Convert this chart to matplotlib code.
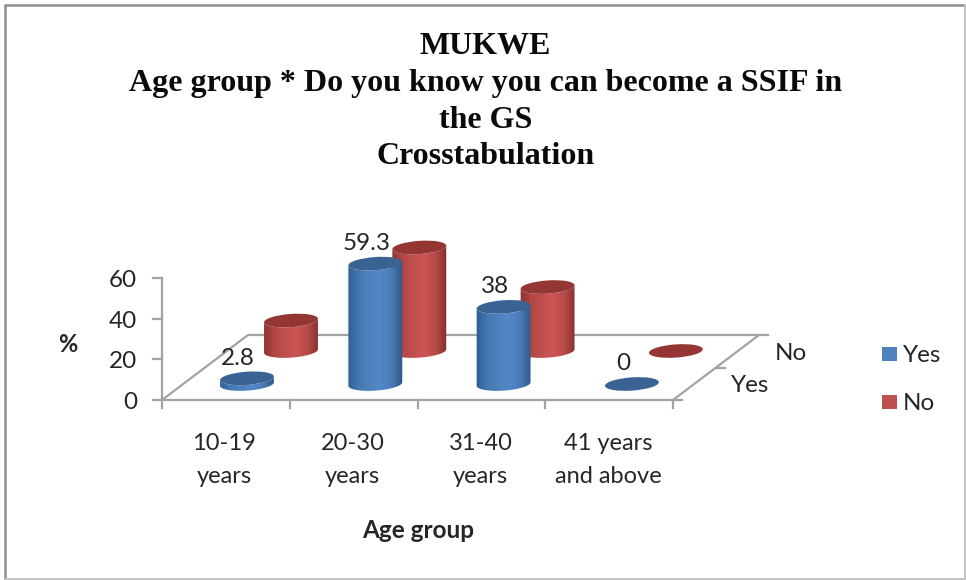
import numpy as np
import matplotlib
matplotlib.use("Agg")
import matplotlib.pyplot as plt
from matplotlib.patches import Polygon, Ellipse, Rectangle
from matplotlib.colors import LinearSegmentedColormap

title_lines = ["MUKWE", "Age group * Do you know you can become a SSIF in", "the GS", "Crosstabulation"]
categories = ["10-19\nyears", "20-30\nyears", "31-40\nyears", "41 years\nand above"]
series_names = ["Yes", "No"]
yes_values = [2.8, 59.3, 38, 0]
no_values = [15, 51, 31.5, 0]
yes_labels = ["2.8", "59.3", "38", "0"]
y_ticks = [0, 20, 40, 60]

W, H = 966, 580
fig = plt.figure(figsize=(W / 100, H / 100), dpi=100)
ax = fig.add_axes([0, 0, 1, 1])
ax.set_xlim(0, W)
ax.set_ylim(H, 0)
ax.axis("off")

LABEL_FONT = "Lato"
TXT = "#262626"
AXC = "#a3a3a3"

# oblique projection of (category, series, value) on to the canvas
CAT0, CAT_STEP, SER_DX, SER_DY, BASE_Y, UNIT = 247, 128.3, 44, 33, 384, 2.03
FL_X0, FL_Y0, FL_W, FL_DX, FL_DY = 162, 400, 511, 86, 65


def proj(cat, ser, val=0):
    return CAT0 + CAT_STEP * cat + SER_DX * ser, BASE_Y - SER_DY * ser - UNIT * val


# frame
ax.plot([5, 5, 965], [579, 4.5, 4.5], color="#8f8f8f", lw=1.8, zorder=1, solid_joinstyle="miter")
ax.plot([5, 965, 965], [579, 579, 4.5], color="#c2c2c2", lw=1.4, zorder=1)

# title
for line, yy in zip(title_lines, [46, 84, 120, 157]):
    ax.text(485.5, yy, line, ha="center", va="center", family="Liberation Serif",
            weight="bold", fontsize=23, color="#0a0a0a")

# walls / axes
lw = 1.6
ax.plot([FL_X0, FL_X0], [FL_Y0, FL_Y0 - 60 * UNIT], color=AXC, lw=lw, zorder=2)
ax.plot([FL_X0, FL_X0 + FL_W, FL_X0 + FL_W + FL_DX, FL_X0 + FL_DX, FL_X0],
        [FL_Y0, FL_Y0, FL_Y0 - FL_DY, FL_Y0 - FL_DY, FL_Y0], color=AXC, lw=lw, zorder=2)
for t in y_ticks:
    yy = FL_Y0 - UNIT * t
    ax.plot([FL_X0 - 9, FL_X0], [yy, yy], color=AXC, lw=lw, zorder=2)
    ax.text(137, yy + 2.5, str(t), ha="right", va="center", family=LABEL_FONT,
            fontsize=17.5, color=TXT)
for i in range(len(categories) + 1):
    xx = FL_X0 + FL_W * i / len(categories)
    ax.plot([xx, xx], [FL_Y0, FL_Y0 + 8], color=AXC, lw=lw, zorder=2)
for i in range(len(series_names) + 1):
    xx = FL_X0 + FL_W + FL_DX * i / len(series_names)
    yy = FL_Y0 - FL_DY * i / len(series_names)
    ax.plot([xx, xx + 9], [yy, yy], color=AXC, lw=lw, zorder=2)
ax.text(750, 386, "Yes", ha="center", va="center", family=LABEL_FONT, fontsize=17.5, color=TXT)
ax.text(791, 353, "No", ha="center", va="center", family=LABEL_FONT, fontsize=17.5, color=TXT)

for i, c in enumerate(categories):
    xx = FL_X0 + FL_W * (i + 0.5) / len(categories)
    ax.text(xx - 1.5 + i * 0.3, 460, c, ha="center", va="center", family=LABEL_FONT, fontsize=17,
            color=TXT, linespacing=1.72)
ax.text(68, 344, "%", ha="center", va="center", family=LABEL_FONT, weight="bold", fontsize=17, color=TXT)
ax.text(418, 531, "Age group", ha="center", va="center", family=LABEL_FONT, weight="bold",
        fontsize=17.5, color=TXT)

# cylinders
R, RY, TILT = 27, 6.6, -4
blue = LinearSegmentedColormap.from_list("b", ["#2f5d91", "#4577b3", "#4f81bd", "#5288c8", "#4a7bb6", "#2c5684"])
red = LinearSegmentedColormap.from_list("r", ["#8a3230", "#b34744", "#c0504d", "#cd5552", "#b84b48", "#83302e"])
top_col = ["#3a6394", "#943634"]
side_col = [blue, red]


def rim(cx, cy, t):
    a = np.radians(TILT)
    ex, ey = R * np.cos(t), RY * np.sin(t)
    return cx + ex * np.cos(a) - ey * np.sin(a), cy + ex * np.sin(a) + ey * np.cos(a)


def cylinder(cat, ser, val, z):
    bx, by = proj(cat, ser, 0)
    tx, ty = proj(cat, ser, val)
    if val > 0:
        t = np.linspace(0, np.pi, 60)
        x1, y1 = rim(bx, by, t)
        x0, y0 = rim(tx, ty, t[::-1])
        poly = Polygon(np.c_[np.r_[x1, x0], np.r_[y1, y0]], closed=True, fc="none", ec="none", zorder=z)
        ax.add_patch(poly)
        grad = np.linspace(0, 1, 128)[None, :]
        im = ax.imshow(grad, cmap=side_col[ser], extent=[bx - R - 1, bx + R + 1, by + RY + 5, ty - RY - 5],
                       aspect="auto", zorder=z, interpolation="bilinear")
        im.set_clip_path(poly)
    ax.add_patch(Ellipse((tx, ty), 2 * R, 2 * RY, angle=TILT, fc=top_col[ser], ec="none", zorder=z + 0.1))


for i in range(len(categories)):
    cylinder(i, 1, no_values[i], 3)
for i in range(len(categories)):
    cylinder(i, 0, yes_values[i], 4)
ax.set_xlim(0, W)
ax.set_ylim(H, 0)

# data labels
for i, lab in enumerate(yes_labels):
    x, y = proj(i, 0, yes_values[i])
    ax.text(x - 9, y - 20, lab, ha="center", va="center",
            family=LABEL_FONT, fontsize=17.5, color=TXT, zorder=6)

# legend
for name, yy, col in zip(series_names, [354, 402], ["#4f81bd", "#c0504d"]):
    ax.add_patch(Rectangle((882, yy - 7), 15, 14, fc=col, ec="none", zorder=5))
    ax.text(903, yy + 1, name, ha="left", va="center", family=LABEL_FONT, fontsize=17.5, color=TXT)

fig.savefig("out.png", dpi=100, facecolor="white")
